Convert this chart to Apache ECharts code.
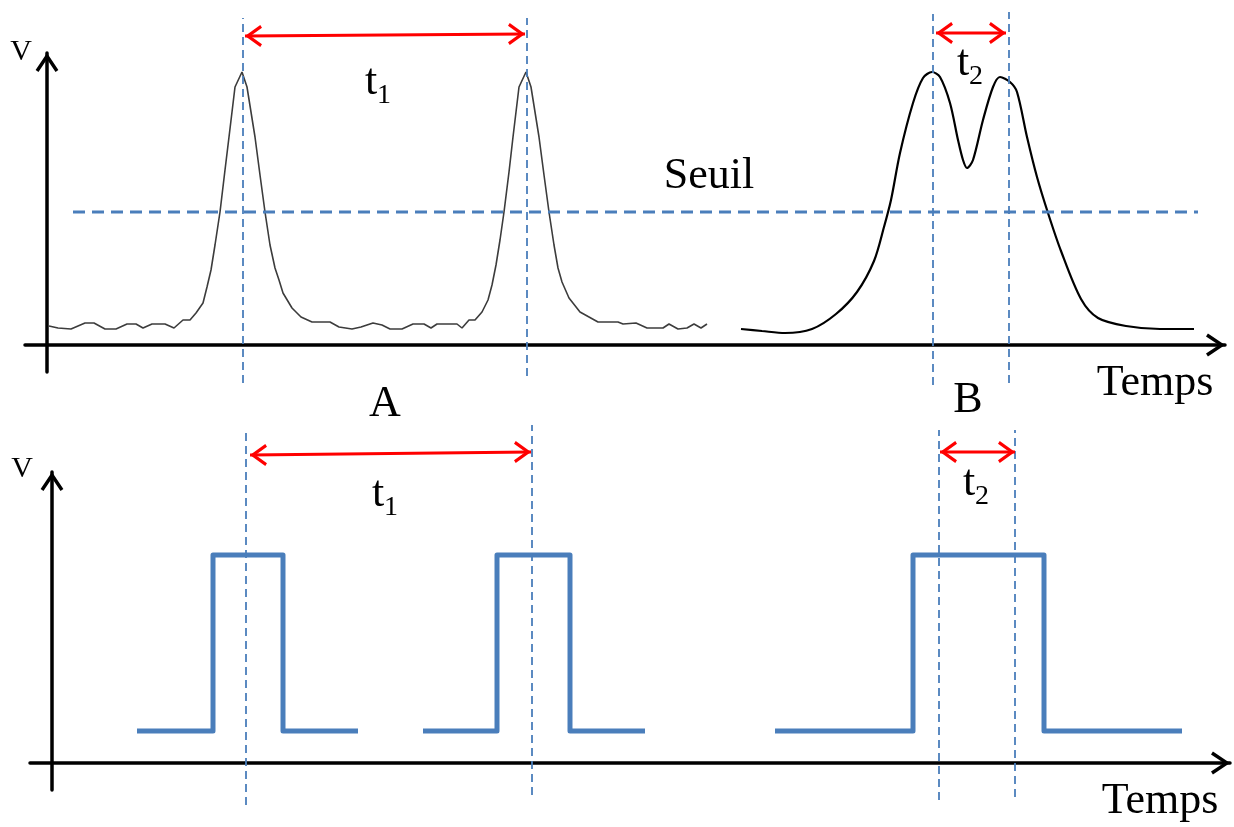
<!DOCTYPE html>
<html>
<head>
<meta charset="utf-8">
<script src="https://cdn.jsdelivr.net/npm/echarts@6/dist/echarts.min.js"></script>
<style>
html, body { margin: 0; padding: 0; background: #fff; }
#chart { width: 1234px; height: 827px; }
</style>
</head>
<body>
<div id="chart"></div>
<script>
// signal analogique (haut) : [temps, tension]
const signalA = [
  [0.2, 0.19], [1.1, 0.17], [2.4, 0.16], [3.8, 0.22], [4.7, 0.22], [5.8, 0.16], [6.9, 0.16],
  [8.0, 0.21], [8.9, 0.21], [9.6, 0.17], [10.5, 0.21], [11.8, 0.21], [12.7, 0.17], [13.6, 0.25],
  [14.3, 0.25], [14.9, 0.32], [15.6, 0.42], [16.0, 0.58], [16.4, 0.75], [16.8, 1.00], [17.3, 1.33],
  [17.8, 1.75], [18.2, 2.08], [18.8, 2.58], [19.5, 2.73], [20.0, 2.58], [20.8, 2.08], [21.3, 1.70],
  [21.8, 1.33], [22.3, 1.00], [22.8, 0.77], [23.2, 0.65], [23.6, 0.52], [24.5, 0.37], [25.4, 0.28],
  [26.5, 0.23], [28.3, 0.23], [29.2, 0.18], [30.5, 0.16], [31.4, 0.18], [32.6, 0.22], [33.5, 0.20],
  [34.3, 0.16], [35.5, 0.16], [36.6, 0.21], [37.7, 0.21], [38.4, 0.17], [39.0, 0.21], [41.0, 0.21],
  [41.5, 0.17], [42.2, 0.25], [42.8, 0.25], [43.5, 0.33], [44.1, 0.45], [44.5, 0.60], [44.9, 0.80],
  [45.3, 1.05], [45.7, 1.33], [46.2, 1.73], [46.6, 2.08], [47.2, 2.58], [47.9, 2.73], [48.4, 2.58],
  [49.2, 2.08], [49.7, 1.70], [50.2, 1.33], [50.7, 1.00], [51.1, 0.77], [51.5, 0.63], [52.2, 0.47],
  [53.3, 0.33], [55.1, 0.23], [57.1, 0.23], [57.6, 0.21], [58.9, 0.22], [60.0, 0.17], [61.6, 0.17],
  [62.2, 0.21], [63.1, 0.16], [64.0, 0.17], [64.7, 0.21], [65.4, 0.17], [66.0, 0.21]
];
const signalB = [
  [69.4, 0.16], [71.5, 0.14], [73.8, 0.12], [76.5, 0.16], [78.9, 0.31], [81.0, 0.53], [82.7, 0.84],
  [83.7, 1.18], [84.4, 1.45], [85.3, 1.92], [86.6, 2.42], [87.6, 2.67], [88.5, 2.73], [89.3, 2.68],
  [90.3, 2.42], [91.1, 2.05], [91.6, 1.85], [92.0, 1.77], [92.6, 1.85], [93.6, 2.25], [94.6, 2.58],
  [95.3, 2.68], [96.3, 2.63], [97.0, 2.53], [98.0, 2.08], [99.0, 1.68], [100.1, 1.32], [101.4, 0.94],
  [103.4, 0.46], [105.1, 0.27], [107.9, 0.19], [111.3, 0.16], [114.7, 0.16]
];
const seuil = 1.33;
const seuilDebut = 2.6;
const seuilFin = 115.1;

// repères verticaux : [temps, v bas, v haut]
const reperesHaut = [[19.6, -0.38, 3.27], [48.0, -0.31, 3.27], [88.6, -0.40, 3.31], [96.2, -0.38, 3.33]];
const reperesBas = [[19.4, -0.42, 3.31], [48.0, -0.32, 3.38], [88.7, -0.37, 3.33], [96.3, -0.34, 3.33]];

// intervalles t1, t2 : [t début, v début, t fin, v fin]
const intervallesHaut = [[19.8, 3.09, 47.8, 3.11], [88.9, 3.12, 95.9, 3.12]];
const intervallesBas = [[19.8, 3.08, 47.9, 3.11], [88.8, 3.11, 96.3, 3.11]];

// signal logique (bas) : [début, front montant, front descendant, fin]
const niveauBas = 0.32;
const niveauHaut = 2.08;
const impulsions = [[8.5, 16.1, 23.1, 30.6], [37.1, 44.5, 51.8, 59.3], [72.3, 86.1, 99.2, 113.0]];

const BLEU = '#4a7ebb';
const ROUGE = '#ff0000';
const SERIF = '"Liberation Serif", "DejaVu Serif", serif';
// chevron ouvert, pointe vers le haut
const chevron = 'path://M10,0 L20,15 L17.5,16.7 L10,5.4 L2.5,16.7 L0,15 Z';

function axe(g, min, max) {
  return {
    gridIndex: g, type: 'value', min: min, max: max,
    axisLine: {
      onZero: true, lineStyle: { color: '#000', width: 3.5 },
      symbol: ['none', chevron], symbolSize: [23, 19], symbolOffset: [0, -9.5]
    },
    axisTick: { show: false }, axisLabel: { show: false }, splitLine: { show: false }
  };
}

function repere(g, r) {
  return {
    type: 'line', xAxisIndex: g, yAxisIndex: g, silent: true, clip: false, showSymbol: false, z: 3,
    data: [[r[0], r[1]], [r[0], r[2]]],
    lineStyle: { color: BLEU, width: 1.8, type: [8, 5] }
  };
}
function fleche(g, a) {
  return {
    type: 'line', xAxisIndex: g, yAxisIndex: g, silent: true, clip: false, z: 4,
    symbol: chevron, symbolSize: [22, 17], showSymbol: true,
    itemStyle: { color: ROUGE, borderWidth: 0 },
    lineStyle: { color: ROUGE, width: 3 },
    data: [
      { value: [a[0], a[1]], symbolRotate: 90, symbolOffset: [8.5, 0] },
      { value: [a[2], a[3]], symbolRotate: -90, symbolOffset: [-8.5, 0] }
    ]
  };
}
function impulsion(p) {
  return {
    type: 'line', xAxisIndex: 1, yAxisIndex: 1, silent: true, showSymbol: false, z: 2,
    lineStyle: { color: BLEU, width: 5, join: 'round', cap: 'butt' },
    data: [[p[0], niveauBas], [p[1], niveauBas], [p[1], niveauHaut], [p[2], niveauHaut], [p[2], niveauBas], [p[3], niveauBas]]
  };
}

const series = [
  {
    type: 'line', xAxisIndex: 0, yAxisIndex: 0, silent: true, showSymbol: false, z: 2,
    lineStyle: { color: '#3c3c3c', width: 1.6 }, data: signalA
  },
  {
    type: 'line', xAxisIndex: 0, yAxisIndex: 0, silent: true, showSymbol: false, smooth: 0.3, z: 2,
    lineStyle: { color: '#000', width: 2.2 }, data: signalB
  },
  {
    type: 'line', xAxisIndex: 0, yAxisIndex: 0, silent: true, showSymbol: false, z: 3,
    lineStyle: { color: BLEU, width: 2.8, type: [12, 7] },
    data: [[seuilDebut, seuil], [seuilFin, seuil]]
  }
];
reperesHaut.forEach(r => series.push(repere(0, r)));
reperesBas.forEach(r => series.push(repere(1, r)));
intervallesHaut.forEach(a => series.push(fleche(0, a)));
intervallesBas.forEach(a => series.push(fleche(1, a)));
impulsions.forEach(p => series.push(impulsion(p)));

function texte(x, y, txt, size) {
  return {
    type: 'text', x: x, y: y, silent: true, z: 10,
    style: { text: txt, fontSize: size, fontFamily: SERIF, fill: '#000', align: 'center', verticalAlign: 'middle' }
  };
}
function indice(x, y, lettre, chiffre) {
  return {
    type: 'text', x: x, y: y, silent: true, z: 10,
    style: {
      text: '{t|' + lettre + '}{s|' + chiffre + '}', fill: '#000', align: 'center', verticalAlign: 'middle',
      rich: {
        t: { fontSize: 44, fontFamily: SERIF, fill: '#000', padding: [0, 0, 6, 0] },
        s: { fontSize: 28, fontFamily: SERIF, fill: '#000', verticalAlign: 'bottom' }
      }
    }
  };
}

const chart = echarts.init(document.getElementById('chart'));
chart.setOption({
  animation: false,
  backgroundColor: '#fff',
  grid: [
    { left: 25, top: 53, width: 1200, height: 319 },
    { left: 30, top: 472, width: 1200, height: 318 }
  ],
  xAxis: [axe(0, -2.2, 117.8), axe(1, -2.2, 117.8)],
  yAxis: [axe(0, -0.27, 2.92), axe(1, -0.27, 2.91)],
  series: series,
  graphic: [
    texte(21, 52, 'V', 30),
    texte(22, 469, 'V', 30),
    texte(1155, 383, 'Temps', 44),
    texte(1160, 801, 'Temps', 44),
    texte(709, 176, 'Seuil', 44),
    texte(385, 404, 'A', 44),
    texte(968, 400, 'B', 44),
    indice(378, 85, 't', '1'),
    indice(970, 66, 't', '2'),
    indice(385, 497, 't', '1'),
    indice(976, 486, 't', '2')
  ]
});
</script>
</body>
</html>
